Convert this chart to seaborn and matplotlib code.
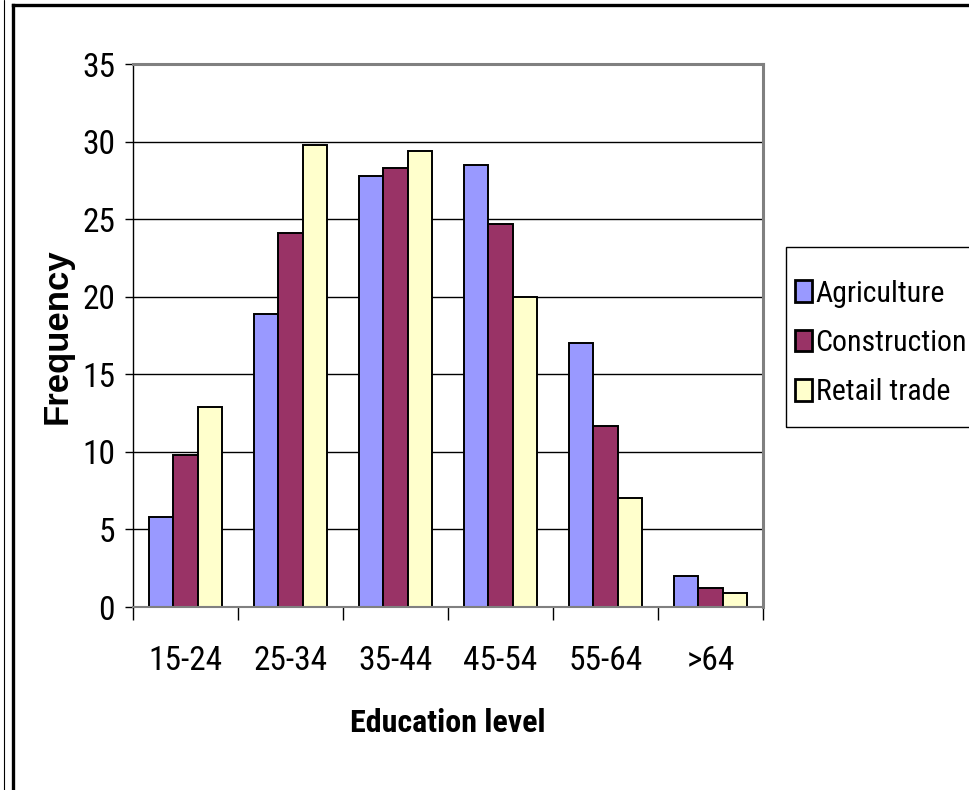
import matplotlib
matplotlib.use("Agg")
import matplotlib.pyplot as plt
from matplotlib.lines import Line2D
from matplotlib.patches import Rectangle
from matplotlib.ticker import FixedLocator, NullFormatter
import numpy as np
import pandas as pd
import seaborn as sns

# Data
age_groups = ["15-24", "25-34", "35-44", "45-54", "55-64", ">64"]
agriculture = [5.8, 18.9, 27.8, 28.5, 17.0, 2.0]
construction = [9.8, 24.1, 28.3, 24.7, 11.7, 1.2]
retail_trade = [12.9, 29.8, 29.4, 20.0, 7.0, 0.9]
sectors = ["Agriculture", "Construction", "Retail trade"]
colors = ["#9999FF", "#993366", "#FFFFCC"]
y_ticks = [0, 5, 10, 15, 20, 25, 30, 35]

df = pd.DataFrame({
    "Education level": age_groups * 3,
    "Frequency": agriculture + construction + retail_trade,
    "Sector": [s for s in sectors for _ in age_groups],
})

sns.set_theme(style="white")
plt.rcParams["font.family"] = ["Roboto Condensed", "Liberation Sans", "DejaVu Sans"]
plt.rcParams.update({
    "text.color": "black",
    "axes.labelcolor": "black",
    "xtick.color": "black",
    "ytick.color": "black",
})

W, H = 969, 790
fig = plt.figure(figsize=(W / 100, H / 100), dpi=100)
ax = fig.add_axes([133 / W, 1 - 607 / H, (763 - 133) / W, (607 - 64.3) / H])

sns.barplot(data=df, x="Education level", y="Frequency", hue="Sector",
            palette=colors, width=0.69, edgecolor="black", linewidth=1.4,
            saturation=1, ax=ax, legend=True)

ax.set_ylim(0, 35)
ax.set_xlim(-0.5, len(age_groups) - 0.5)
ax.set_yticks(y_ticks)
ax.yaxis.grid(True, color="black", linewidth=1.0)
ax.set_axisbelow(True)

for side in ["top", "right"]:
    ax.spines[side].set_color("#808080")
    ax.spines[side].set_linewidth(2.2)
ax.spines["left"].set_color("black")
ax.spines["left"].set_linewidth(1.0)
ax.spines["bottom"].set_color("#808080")
ax.spines["bottom"].set_linewidth(1.5)

ax.tick_params(axis="y", which="major", direction="out", length=6, width=1,
               color="black", pad=7, labelsize=24, left=True)
ax.tick_params(axis="x", which="major", length=0, pad=27, labelsize=24)
ax.xaxis.set_minor_locator(FixedLocator(np.arange(-0.5, len(age_groups), 1.0)))
ax.xaxis.set_minor_formatter(NullFormatter())
ax.tick_params(axis="x", which="minor", direction="out", length=9, width=1,
               color="black", bottom=True)

ax.set_ylabel("Frequency", fontsize=25, fontweight="bold",
              family=["Liberation Sans", "DejaVu Sans"], labelpad=6)
ax.set_xlabel("Education level", fontsize=23, fontweight="bold", labelpad=23)

# legend entries without their own frame; the box is drawn separately
leg = ax.legend(loc="upper left", bbox_to_anchor=(795 / W, 1 - 279.5 / H),
                bbox_transform=fig.transFigure, borderaxespad=0,
                fontsize=21.5, frameon=False, borderpad=0,
                handlelength=0.57, handleheight=0.74, handletextpad=0.12,
                labelspacing=0.72, title=None)
for h in leg.legend_handles:
    h.set_edgecolor("black")
    h.set_linewidth(2.0)

fig.add_artist(Rectangle((786 / W, 1 - 427 / H), 200 / W, 180 / H,
                         transform=fig.transFigure, facecolor="none",
                         edgecolor="black", linewidth=1.0))

# outer chart frame
fig.add_artist(Line2D([4 / W, 4 / W], [0, 1], transform=fig.transFigure,
                      color="black", linewidth=0.8))
fig.add_artist(Line2D([12.5 / W, 12.5 / W], [0, 1 - 5 / H], transform=fig.transFigure,
                      color="black", linewidth=2.4, solid_capstyle="projecting"))
fig.add_artist(Line2D([12.5 / W, 1], [1 - 5 / H, 1 - 5 / H], transform=fig.transFigure,
                      color="black", linewidth=2.4, solid_capstyle="projecting"))

fig.savefig("out.png", dpi=100, facecolor="white")
